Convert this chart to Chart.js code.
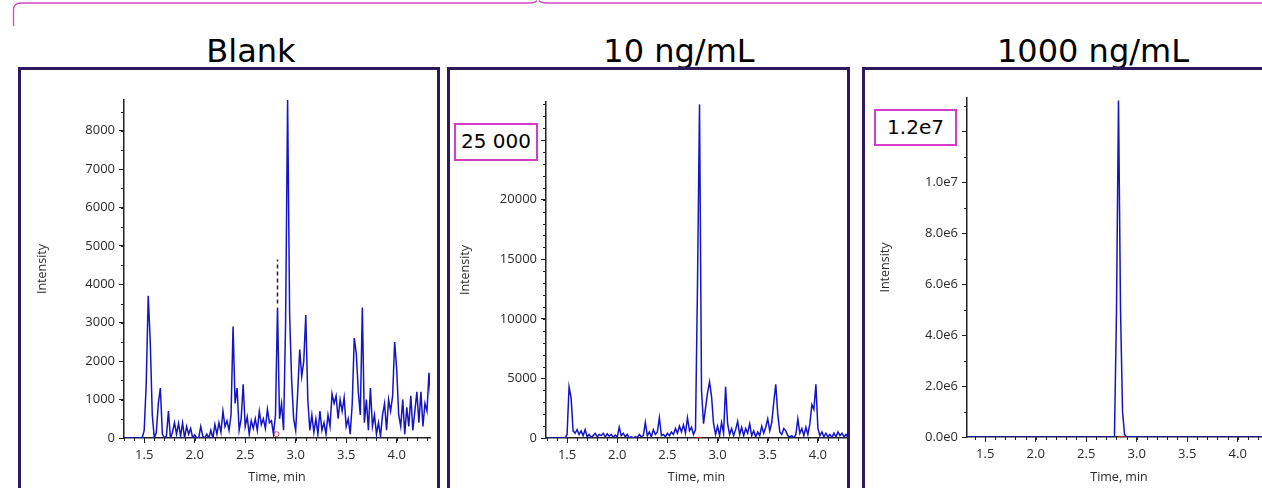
<!DOCTYPE html>
<html>
<head>
<meta charset="utf-8">
<script src="https://cdn.jsdelivr.net/npm/chart.js@4.4.1/dist/chart.umd.min.js"></script>
<style>
  html, body { margin: 0; padding: 0; background: #fff; overflow: hidden; width: 1262px; height: 488px; position: relative; }
  .title { position: absolute; top: 35px; width: 300px; line-height: 32px; font-family: 'DejaVu Sans', Verdana, sans-serif; font-size: 32px; color: #000; text-align: center; }
  .panel { position: absolute; top: 67px; height: 440px; border: 3px solid #2d1a5c; background: #fff; box-sizing: border-box; }
  .panel canvas { position: absolute; left: 0; top: 0; }
  .tag { position: absolute; box-sizing: border-box; border: 2.5px solid #d63cc8; background: #fff; font-family: 'DejaVu Sans', Verdana, sans-serif; font-size: 20px; color: #000; text-align: center; }
  svg { position: absolute; left: 0; top: 0; }
</style>
</head>
<body>

<svg width="1262" height="30">
  <path d="M13.5,26 L13.5,10 Q13.5,3 21,3 L530,3 Q535,3 537,0.5" fill="none" stroke="#d447c8" stroke-width="1.3"/>
  <path d="M539,0.5 Q541,3 547,3 L1262,3" fill="none" stroke="#d447c8" stroke-width="1.3"/>
</svg>

<div class="title" style="left:101px">Blank</div>
<div class="title" style="left:529px">10 ng/mL</div>
<div class="title" style="left:943px">1000 ng/mL</div>

<div class="panel" style="left:18px; width:422px"><canvas id="blankChart" width="416" height="418"></canvas></div>
<div class="panel" style="left:447px; width:403px"><canvas id="lowChart" width="397" height="418"></canvas></div>
<div class="panel" style="left:862px; width:430px"><canvas id="highChart" width="413" height="418"></canvas></div>

<div class="tag" style="left:454px; top:123px; width:84px; height:38px; line-height:33px;">25 000</div>
<div class="tag" style="left:874px; top:109px; width:83px; height:37px; line-height:32px;">1.2e7</div>

<script>
// --- Data: scan times (min) shared by all three traces ---
const scanTimes = [
  1.30, 1.32, 1.34, 1.36, 1.38, 1.40, 1.42, 1.44, 1.46, 1.48,
  1.50, 1.52, 1.54, 1.56, 1.58, 1.60, 1.62, 1.64, 1.66, 1.68,
  1.70, 1.72, 1.74, 1.76, 1.78, 1.80, 1.82, 1.84, 1.86, 1.88,
  1.90, 1.92, 1.94, 1.96, 1.98, 2.00, 2.02, 2.04, 2.06, 2.08,
  2.10, 2.12, 2.14, 2.16, 2.18, 2.20, 2.22, 2.24, 2.26, 2.28,
  2.30, 2.32, 2.34, 2.36, 2.38, 2.40, 2.42, 2.44, 2.46, 2.48,
  2.50, 2.52, 2.54, 2.56, 2.58, 2.60, 2.62, 2.64, 2.66, 2.68,
  2.70, 2.72, 2.74, 2.76, 2.78, 2.80, 2.82, 2.84, 2.86, 2.88,
  2.90, 2.92, 2.94, 2.96, 2.98, 3.00, 3.02, 3.04, 3.06, 3.08,
  3.10, 3.12, 3.14, 3.16, 3.18, 3.20, 3.22, 3.24, 3.26, 3.28,
  3.30, 3.32, 3.34, 3.36, 3.38, 3.40, 3.42, 3.44, 3.46, 3.48,
  3.50, 3.52, 3.54, 3.56, 3.58, 3.60, 3.62, 3.64, 3.66, 3.68,
  3.70, 3.72, 3.74, 3.76, 3.78, 3.80, 3.82, 3.84, 3.86, 3.88,
  3.90, 3.92, 3.94, 3.96, 3.98, 4.00, 4.02, 4.04, 4.06, 4.08,
  4.10, 4.12, 4.14, 4.16, 4.18, 4.20, 4.22, 4.24, 4.26, 4.28,
  4.30, 4.32, 4.34
];

// Blank injection
const blankIntensity = [
  0, 0, 0, 0, 0, 0, 0, 0, 0, 0,
  200, 1400, 3700, 2500, 600, 0, 150, 900, 1300, 100,
  0, 50, 700, 0, 150, 400, 100, 380, 50, 390,
  0, 300, 100, 250, 0, 80, 0, 0, 300, 50,
  0, 100, 0, 200, 0, 350, 100, 400, 150, 700,
  300, 450, 200, 600, 2900, 900, 1300, 200, 500, 1400,
  300, 550, 100, 450, 250, 500, 200, 700, 350, 500,
  250, 750, 400, 450, 100, 600, 3400, 500, 900, 200,
  3000, 8800, 3200, 1500, 500, 200, 1200, 2300, 1600, 2000,
  3200, 1000, 200, 600, 150, 500, 100, 700, 200, 400,
  100, 600, 300, 1150, 900, 1100, 500, 1000, 700, 1050,
  300, 500, 100, 900, 2600, 2200, 1200, 600, 3400, 400,
  1000, 200, 1300, 300, 600, 100, 400, 50, 600, 900,
  200, 1000, 700, 1100, 2500, 1800, 600, 300, 1000, 100,
  800, 300, 1100, 200, 700, 1200, 400, 1200, 300, 900,
  700, 1700, 1000
];

// 10 ng/mL
const lowIntensity = [
  0, 0, 0, 0, 0, 0, 0, 0, 0, 0,
  300, 4300, 3400, 600, 400, 700, 300, 600, 200, 700,
  100, 300, 50, 200, 400, 100, 300, 200, 400, 100,
  350, 150, 300, 50, 250, 100, 900, 200, 400, 100,
  300, 0, 100, 0, 100, 50, 300, 100, 200, 1300,
  200, 500, 100, 700, 300, 500, 1700, 200, 300, 100,
  400, 200, 500, 300, 800, 400, 1000, 500, 1100, 400,
  1700, 600, 900, 300, 700, 12900, 28000, 4000, 1200, 2500,
  3800, 4700, 3500, 1200, 300, 1000, 200, 1300, 400, 4300,
  1200, 300, 800, 200, 700, 1400, 300, 900, 200, 800,
  400, 1200, 200, 600, 100, 500, 200, 1000, 400, 900,
  1600, 600, 1300, 3000, 4500, 2000, 500, 300, 800, 600,
  200, 100, 200, 0, 300, 1600, 400, 800, 200, 900,
  300, 1200, 2800, 2400, 4500, 800, 200, 500, 100, 400,
  100, 300, 50, 400, 100, 500, 200, 400, 100, 300,
  50, 200, 100
];

// 1000 ng/mL
const highIntensity = [
  0, 0, 0, 0, 0, 0, 0, 0, 0, 0,
  0, 0, 0, 0, 0, 0, 0, 0, 0, 0,
  0, 0, 0, 0, 0, 0, 0, 0, 0, 0,
  0, 0, 0, 0, 0, 0, 0, 0, 0, 0,
  0, 0, 0, 0, 0, 0, 0, 0, 0, 0,
  0, 0, 0, 0, 0, 0, 0, 0, 0, 0,
  0, 0, 0, 0, 0, 0, 0, 0, 0, 0,
  0, 0, 0, 0, 0, 4900000, 13200000, 5000000, 1000000, 100000,
  0, 0, 0, 0, 0, 0, 0, 0, 0, 0,
  0, 0, 0, 0, 0, 0, 0, 0, 0, 0,
  0, 0, 0, 0, 0, 0, 0, 0, 0, 0,
  0, 0, 0, 0, 0, 0, 0, 0, 0, 0,
  0, 0, 0, 0, 0, 0, 0, 0, 0, 0,
  0, 0, 0, 0, 0, 0, 0, 0, 0, 0,
  0, 0, 0, 0, 0, 0, 0, 0, 0, 0,
  0, 0, 0
];

// Tick labels
const timeTicks = [1.5, 2.0, 2.5, 3.0, 3.5, 4.0];
const blankTicks = [0, 1000, 2000, 3000, 4000, 5000, 6000, 7000, 8000];
const lowTicks = [0, 5000, 10000, 15000, 20000, 25000];
const highTicks = [0, 2e6, 4e6, 6e6, 8e6, 1e7, 1.2e7];

// Integration marks
const blankApexMark = [{ x: 2.82, y: 3500 }, { x: 2.82, y: 4650 }];
const blankRtMark = [{ x: 2.81, y: 100 }];
const lowBaseline = [{ x: 2.79, y: 0 }, { x: 2.84, y: 0 }];
const highBaseline = [{ x: 2.81, y: 0 }, { x: 2.91, y: 0 }];

const TRACE = '#1414c4';
const INK = '#222';
const tickFont = { family: "'Open Sans', 'Noto Sans', sans-serif", size: 13 };
const titleFont = { family: "'Open Sans', 'Noto Sans', sans-serif", size: 12.5 };

// --- minor tick marks on both axes ---
const minorTicks = {
    id: 'minorTicks',
    afterDraw(chart, args, opts) {
        const { ctx, scales: { x, y } } = chart;
        ctx.save();
        ctx.strokeStyle = INK;
        ctx.lineWidth = 1;
        const x0 = Math.ceil(x.min * 10);
        const x1 = Math.floor(x.max * 10);
        for (let i = x0; i <= x1; i++) {
            const px = Math.round(x.getPixelForValue(i / 10)) + 0.5;
            ctx.beginPath();
            ctx.moveTo(px, y.bottom);
            ctx.lineTo(px, y.bottom + 3);
            ctx.stroke();
        }
        const n = Math.floor(y.max / opts.step);
        for (let i = 0; i <= n; i++) {
            const py = Math.round(y.getPixelForValue(i * opts.step)) + 0.5;
            ctx.beginPath();
            ctx.moveTo(x.left, py);
            ctx.lineTo(x.left - 3, py);
            ctx.stroke();
        }
        ctx.restore();
    }
};

function toPoints(values) {
    return scanTimes.map((t, i) => ({ x: t, y: values[i] }));
}

function buildPanel(id, values, extras, opt) {
    const datasets = [{
        data: toPoints(values),
        borderColor: TRACE,
        borderWidth: 1.5,
        pointRadius: 0,
        showLine: true,
        tension: 0
    }].concat(extras);

    return new Chart(document.getElementById(id), {
        type: 'scatter',
        data: { datasets },
        options: {
            responsive: false,
            animation: false,
            layout: { padding: { top: opt.padTop, right: opt.padRight, left: 0, bottom: 0 } },
            plugins: {
                legend: { display: false },
                tooltip: { enabled: false },
                minorTicks: { step: opt.yMinor }
            },
            scales: {
                x: {
                    type: 'linear',
                    min: opt.xMin,
                    max: opt.xMax,
                    afterBuildTicks: s => { s.ticks = timeTicks.map(v => ({ value: v })); },
                    afterFit: s => { s.height = opt.xHeight; },
                    ticks: { callback: v => v.toFixed(1), font: tickFont, color: '#2a2a2a', padding: 4, maxRotation: 0, autoSkip: false },
                    grid: { drawOnChartArea: false, tickLength: 5, tickColor: INK, tickWidth: 1 },
                    border: { color: INK, width: 1.5 },
                    title: { display: true, text: 'Time, min', font: titleFont, color: '#2a2a2a', padding: { top: 0, bottom: 3 } }
                },
                y: {
                    type: 'linear',
                    min: 0,
                    max: opt.yMax,
                    afterBuildTicks: s => { s.ticks = opt.yTicks.map(v => ({ value: v })); },
                    afterFit: s => { s.width = opt.yWidth; },
                    ticks: { callback: opt.yFormat, font: tickFont, color: '#2a2a2a', padding: 4, autoSkip: false },
                    grid: { drawOnChartArea: false, tickLength: 5, tickColor: INK, tickWidth: 1 },
                    border: { color: INK, width: 1.5 },
                    title: { display: true, text: 'Intensity', font: titleFont, color: '#2a2a2a', padding: { top: opt.yTitlePad, bottom: 0 } }
                }
            }
        },
        plugins: [minorTicks]
    });
}

buildPanel('blankChart', blankIntensity, [
    { data: blankApexMark, borderColor: '#222', borderWidth: 1.5, borderDash: [4, 3], pointRadius: 0, showLine: true },
    { data: blankRtMark, pointRadius: 2.5, pointBorderColor: '#d0405a', pointBackgroundColor: '#fff', pointBorderWidth: 1 }
], {
    xMin: 1.30, xMax: 4.33, yMax: 8800, yTicks: blankTicks, yMinor: 500,
    yFormat: v => String(v),
    padTop: 30, padRight: 7, xHeight: 50, yWidth: 103, yTitlePad: 13.5
});

buildPanel('lowChart', lowIntensity, [
    { data: lowBaseline, borderColor: '#d02020', borderWidth: 2, pointRadius: 0, showLine: true }
], {
    xMin: 1.29, xMax: 4.29, yMax: 28200, yTicks: lowTicks, yMinor: 1000,
    yFormat: v => String(v),
    padTop: 32, padRight: 0, xHeight: 50, yWidth: 96, yTitlePad: 7.5
});

buildPanel('highChart', highIntensity, [
    { data: highBaseline, borderColor: '#b02020', borderWidth: 2, pointRadius: 0, showLine: true }
], {
    xMin: 1.32, xMax: 4.33, yMax: 13300000, yTicks: highTicks, yMinor: 1000000,
    yFormat: v => v.toExponential(1).replace('+', ''),
    padTop: 28, padRight: 7, xHeight: 51, yWidth: 102, yTitlePad: 12.5
});
</script>
</body>
</html>
